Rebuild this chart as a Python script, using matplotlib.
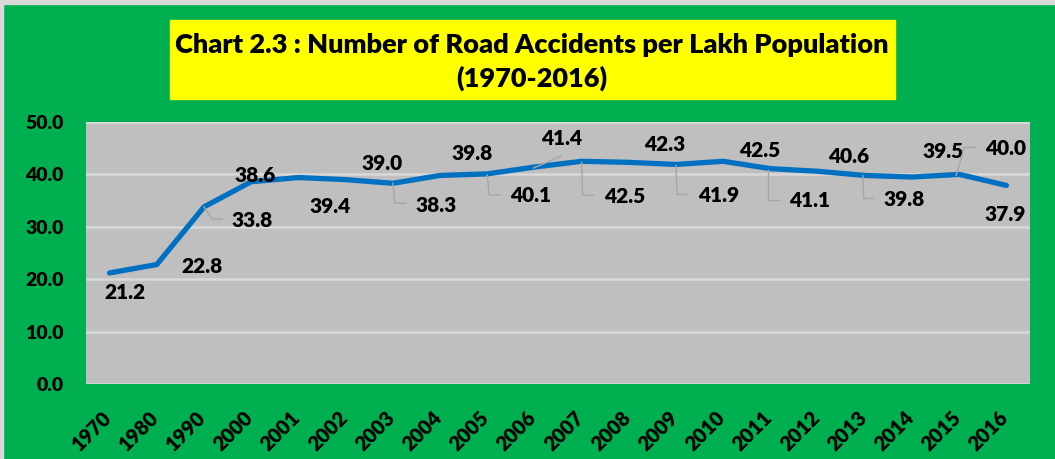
import matplotlib.pyplot as plt
from matplotlib.patches import Rectangle
from matplotlib.transforms import IdentityTransform, ScaledTranslation

plt.rcParams['font.family'] = ['Lato', 'DejaVu Sans']
plt.rcParams['font.weight'] = 'heavy'

years = ['1970', '1980', '1990', '2000', '2001', '2002', '2003', '2004', '2005', '2006',
         '2007', '2008', '2009', '2010', '2011', '2012', '2013', '2014', '2015', '2016']
accidents = [21.2, 22.8, 33.8, 38.6, 39.4, 39.0, 38.3, 39.8, 40.1, 41.4,
             42.5, 42.3, 41.9, 42.5, 41.1, 40.6, 39.8, 39.5, 40.0, 37.9]
yticks = [0, 10, 20, 30, 40, 50]

# label offsets in pixels from each point (dx right, dy down), as in the original
offsets = [(15, 20), (45, 2), (48, 14), (4, -6), (32, 29), (36, -16), (43, 22), (32, -22),
           (43, 22), (27, -29), (43, 35), (36, -18), (43, 31), (37, -11), (39, 32), (31, -15),
           (39, 24), (31, -26), (46, -26), (-1, 29)]
# leader lines (pixel offsets from point)
leaders = {
    2: [(0, 0), (8, 12), (18, 12)],
    6: [(0, 0), (2, 20), (13, 20)],
    8: [(0, 1), (2, 21), (13, 21)],
    9: [(-1, 1), (27, -11)],
    10: [(0, 1), (1, 34), (12, 34)],
    12: [(0, 1), (1, 30), (12, 30)],
    14: [(-2, 1), (-2, 31), (9, 31)],
    16: [(-2, 0), (-1, 23), (9, 23)],
    18: [(-3, 1), (5, -27), (16, -27)],
}

W, H = 1055, 459
fig = plt.figure(figsize=(W / 100, H / 100), dpi=100, facecolor='#00B050')
# light frame on top and left edges
fig.patches.append(Rectangle((0, 1 - 4 / H), 1, 4 / H, transform=fig.transFigure, color='#D9D9D9', zorder=0))
fig.patches.append(Rectangle((0, 0), 3 / W, 1, transform=fig.transFigure, color='#D9D9D9', zorder=0))

# title box
fig.patches.append(Rectangle((170 / W, 1 - 99 / H), (895 - 170) / W, (99 - 20) / H,
                             transform=fig.transFigure, color='#FFFF00', zorder=1))
fig.text(532 / W, 1 - 45 / H, 'Chart 2.3 : Number of Road Accidents per Lakh Population',
         ha='center', va='center', fontsize=19.5, color='black')
fig.text(532 / W, 1 - 78 / H, '(1970-2016)', ha='center', va='center',
         fontsize=19.5, color='black')

ax = fig.add_axes([86 / W, 1 - 384 / H, (1030 - 86) / W, (384 - 122) / H])
ax.set_facecolor('#BFBFBF')
x = list(range(len(years)))
ax.plot(x, accidents, color='#0070C0', lw=3.8, solid_capstyle='round', solid_joinstyle='round', zorder=3)

ax.set_xlim(-0.5, len(years) - 0.5)
ax.set_ylim(0, 50)
ax.set_yticks(yticks)
ax.set_yticklabels(['%.1f' % v for v in yticks])
ax.set_xticks(x)
ax.set_xticklabels(years, rotation=45, ha='right', rotation_mode='anchor')
ax.tick_params(axis='y', length=0, pad=16, labelsize=14)
ax.tick_params(axis='x', length=0, pad=17, labelsize=14.5)
shift = ScaledTranslation(-8 / 100, 0, fig.dpi_scale_trans)
for lab in ax.get_xticklabels():
    lab.set_transform(lab.get_transform() + shift)
ax.grid(axis='y', color='#D9D9D9', lw=1.8, zorder=1)
ax.set_axisbelow(True)
for s in ax.spines.values():
    s.set_visible(False)

fig.canvas.draw()
for i, v in enumerate(accidents):
    dx, dy = offsets[i]
    ax.annotate('%.1f' % v, (i, v), xytext=(dx, -dy), textcoords='offset pixels',
                ha='center', va='center', fontsize=15, color='black',
                zorder=5, annotation_clip=False)
    if i in leaders:
        px, py = ax.transData.transform((i, v))
        xs = [px + a for a, b in leaders[i]]
        ys = [py - b for a, b in leaders[i]]
        fig.add_artist(plt.Line2D(xs, ys, transform=IdentityTransform(), color='#A6A6A6', lw=1, zorder=2))

fig.savefig('out.png', dpi=100, facecolor=fig.get_facecolor())
